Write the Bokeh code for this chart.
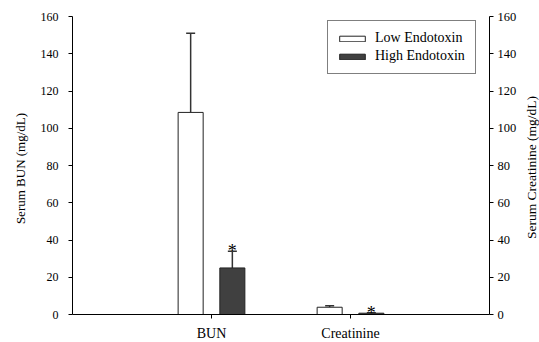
import math
from bokeh.plotting import figure
from bokeh.models import (Range1d, LinearAxis, FixedTicker, Legend, LegendItem,
                          Whisker, TeeHead, ColumnDataSource, CustomJSTickFormatter)
from bokeh.core.properties import value
from bokeh.embed import file_html
from bokeh.resources import INLINE

# ---- data ----
categories = ["BUN", "Creatinine"]
low_values = [108.5, 3.9]
low_errors = [42.5, 0.8]
high_values = [25.0, 0.7]
high_errors = [9.0, 0.3]
high_significant = [True, True]
y_ticks = [0, 20, 40, 60, 80, 100, 120, 140, 160]
left_title = "Serum BUN (mg/dL)"
right_title = "Serum Creatinine (mg/dL)"
series_names = ["Low Endotoxin", "High Endotoxin"]

FONT = "Liberation Serif"
X_MIN, X_MAX = 0, 3
Y_MIN, Y_MAX = 0, 160
cat_x = [i + 1 for i in range(len(categories))]
off = 0.15
bw = 0.18

p = figure(width=539, height=342, output_backend="svg", toolbar_location=None,
           x_range=Range1d(X_MIN, X_MAX), y_range=Range1d(Y_MIN, Y_MAX),
           min_border_left=72, min_border_right=50, min_border_top=16,
           min_border_bottom=28)
p.outline_line_color = None
p.xgrid.visible = False
p.ygrid.visible = False
p.background_fill_color = "white"
p.border_fill_color = "white"

low_src = ColumnDataSource(dict(x=[c - off for c in cat_x], top=low_values,
                                up=[v + e for v, e in zip(low_values, low_errors)]))
high_src = ColumnDataSource(dict(x=[c + off for c in cat_x], top=high_values,
                                 up=[v + e for v, e in zip(high_values, high_errors)]))

r_low = p.vbar(x="x", top="top", width=bw, bottom=0, source=low_src,
               fill_color="white", line_color="#222222", line_width=1)
r_high = p.vbar(x="x", top="top", width=bw, bottom=0, source=high_src,
                fill_color="#404040", line_color="#222222", line_width=1)

for src in (low_src, high_src):
    w = Whisker(base="x", lower="top", upper="up", source=src, dimension="height",
                line_color="#333333", line_width=1.5,
                upper_head=TeeHead(size=9, line_color="#333333", line_width=1.5),
                lower_head=None)
    p.add_layout(w)

star_x = [x for x, s in zip(high_src.data["x"], high_significant) if s]
star_y = [u for u, s in zip(high_src.data["up"], high_significant) if s]
p.text(x=star_x, y=star_y, text=["*"] * len(star_x), text_font=value(FONT),
       text_font_size="18px", text_align="center", text_baseline="alphabetic",
       text_color="black")

# axes (lines + ticks from Bokeh; labels drawn as overlay texts for the serif font)
blank = CustomJSTickFormatter(code="return ''")

def style_axis(ax):
    ax.axis_line_color = "black"
    ax.axis_line_width = 1
    ax.major_tick_line_color = "black"
    ax.major_tick_out = 4
    ax.major_tick_in = 0
    ax.minor_tick_line_color = None
    ax.major_label_standoff = 0
    ax.formatter = blank

p.yaxis.ticker = FixedTicker(ticks=y_ticks)
style_axis(p.yaxis[0])
p.xaxis.ticker = FixedTicker(ticks=cat_x)
style_axis(p.xaxis[0])
ry = LinearAxis(ticker=FixedTicker(ticks=y_ticks))
style_axis(ry)
p.add_layout(ry, "right")

tick_text = [str(t) for t in y_ticks]
left_ticks = ColumnDataSource(dict(x=[X_MIN] * len(y_ticks), y=y_ticks, t=tick_text))
right_ticks = ColumnDataSource(dict(x=[X_MAX] * len(y_ticks), y=y_ticks, t=tick_text))
cat_src = ColumnDataSource(dict(x=cat_x, y=[Y_MIN] * len(cat_x), t=categories))

common = dict(text_font=value(FONT), text_color="black", level="overlay")
p.text(x="x", y="y", text="t", source=left_ticks, x_offset=-14,
       text_align="right", text_baseline="middle", text_font_size="12px", **common)
p.text(x="x", y="y", text="t", source=right_ticks, x_offset=8,
       text_align="left", text_baseline="middle", text_font_size="12.5px", **common)
p.text(x="x", y="y", text="t", source=cat_src, y_offset=11,
       text_align="center", text_baseline="top", text_font_size="14px", **common)

p.text(x=[X_MIN], y=[(Y_MIN + Y_MAX) / 2], text=[left_title], x_offset=-52,
       y_offset=3, angle=math.pi / 2, text_align="center", text_baseline="middle",
       text_font_size="13px", **common)
p.text(x=[X_MAX], y=[(Y_MIN + Y_MAX) / 2], text=[right_title], x_offset=42,
       y_offset=2, angle=math.pi / 2, text_align="center", text_baseline="middle",
       text_font_size="13.5px", **common)

legend = Legend(items=[LegendItem(label=series_names[0], renderers=[r_low]),
                       LegendItem(label=series_names[1], renderers=[r_high])],
                location=(255, 240), orientation="vertical",
                glyph_width=32, glyph_height=7, label_height=18, label_width=92,
                label_standoff=7, padding=8, spacing=0, margin=0,
                label_text_font=FONT, label_text_font_size="14px",
                label_text_color="black",
                border_line_color="black", border_line_width=1,
                background_fill_color="white", background_fill_alpha=1)
p.add_layout(legend, "center")

open("out.html", "w").write(file_html(p, INLINE))
